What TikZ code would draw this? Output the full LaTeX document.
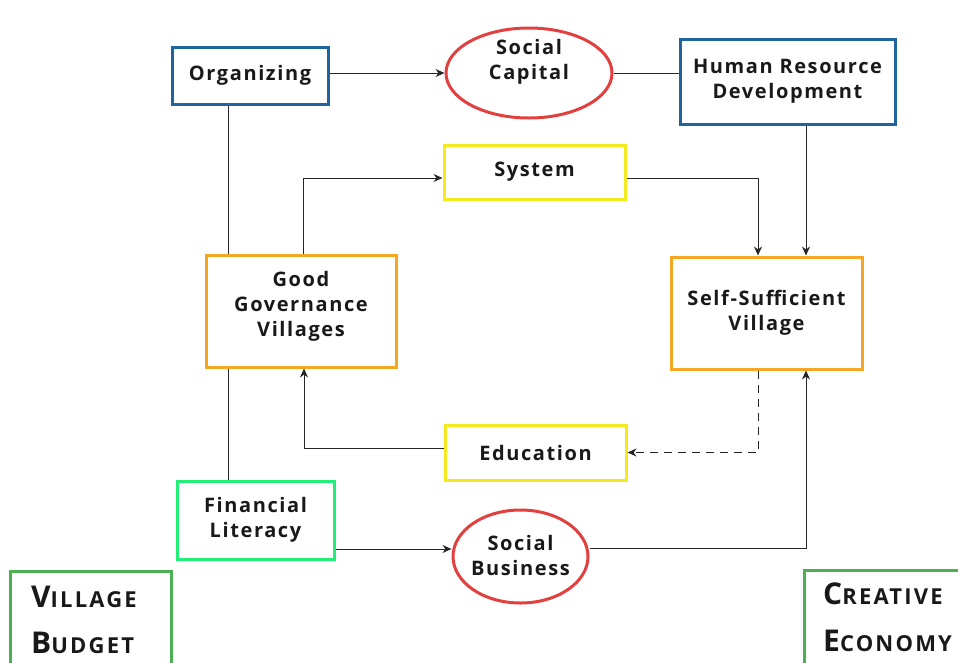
\documentclass[tikz,border=0pt]{standalone}
\usepackage{fontspec}
\setmainfont{Open Sans}[UprightFont={* Bold},LetterSpace=8]
\newfontfamily\capfont{Open Sans}[UprightFont={* Bold},LetterSpace=10]
\usetikzlibrary{arrows.meta,shapes.geometric}
\definecolor{cblue}{HTML}{1F63A0}
\definecolor{cred}{HTML}{E2403F}
\definecolor{corange}{HTML}{F5A623}
\definecolor{cyellow}{HTML}{F2EA1C}
\definecolor{cgreen}{HTML}{22EE77}
\definecolor{cdgreen}{HTML}{4CAF50}
\begin{document}
\begin{tikzpicture}[x=1pt,y=-1pt,
  txt/.style={font=\fontsize{20}{25}\selectfont, align=center, text=black!90, inner sep=0pt},
  bx/.style={txt, draw, line width=3pt},
  el/.style={draw=cred, ellipse, line width=3pt, inner sep=0pt},
  captxt/.style={anchor=west, inner sep=0pt, text=black!90, font=\capfont\fontsize{30}{30}\selectfont},
  conn/.style={line width=1pt, black!85},
  arr/.style={conn, -{Stealth[length=9pt,width=8pt]}},
]
\useasboundingbox (0,0) rectangle (958,662);
% nodes
\node[bx, draw=cblue, minimum width=156pt, minimum height=57pt] (org) at (250,75.5) {Organizing};
\node[el, minimum width=166pt, minimum height=90pt] (sc) at (529,73) {};
\node[txt] (sct) at (529,62) {Social\\Capital};
\node[bx, draw=cblue, minimum width=215pt, minimum height=85pt] (hrd) at (787.5,81.5) {Human Resource\\Development};
\node[bx, draw=cyellow, minimum width=181pt, minimum height=54pt] (sys) at (534.5,172) {System};
\node[draw=corange, line width=3pt, minimum width=190pt, minimum height=112pt] (gg) at (301,311) {};
\node[txt] (ggt) at (301,306) {Good\\Governance\\Villages};
\node[bx, draw=corange, minimum width=191pt, minimum height=112pt] (ssv) at (766.5,313) {Self-Sufficient\\Village};
\node[bx, draw=cyellow, minimum width=181pt, minimum height=55pt] (edu) at (535.5,452.5) {Education};
\node[bx, draw=cgreen, minimum width=157pt, minimum height=78pt] (fl) at (255.5,520) {Financial\\Literacy};
\node[el, minimum width=135pt, minimum height=93pt] (sb) at (520.5,556.5) {};
\node[txt] (sbt) at (520.5,555) {Social\\Business};
\node[draw=cdgreen, line width=3pt, minimum width=161pt, minimum height=110pt] (vb) at (90.5,626) {};
\node[captxt] (vb1) at (31,597) {V\fontsize{22}{22}\selectfont ILLAGE};
\node[captxt] (vb2) at (31,643) {B\fontsize{22}{22}\selectfont UDGET};
\node[draw=cdgreen, line width=3pt, minimum width=180pt, minimum height=110pt] (ce) at (894,625) {};
\node[captxt] (ce1) at (823,594) {C\fontsize{22}{22}\selectfont REATIVE};
\node[captxt] (ce2) at (823,641) {E\fontsize{22}{22}\selectfont CONOMY};
% connectors
\draw[arr] (org.east |- 0,73) -- (sc.west);
\draw[conn] (sc.east) -- (hrd.west |- sc.east);
\draw[conn] (org.south -| 228,0) -- (gg.north -| 228,0);
\draw[conn] (gg.south -| 228,0) -- (fl.north -| 228,0);
\draw[arr] (gg.north -| 303,0) |- (sys.west |- 0,178);
\draw[arr] (sys.east |- 0,178) -| (ssv.north -| 758,0);
\draw[arr] (hrd.south -| 806,0) -- (ssv.north -| 806,0);
\draw[arr, dashed, dash pattern=on 8pt off 6pt] (ssv.south -| 758,0) |- (edu.east);
\draw[arr] (edu.west |- 0,448) -| (gg.south -| 304,0);
\draw[arr] (fl.east |- 0,549) -- (sb.west |- 0,549);
\draw[arr] (sb.east |- 0,548) -| (ssv.south -| 806,0);
\end{tikzpicture}
\end{document}
